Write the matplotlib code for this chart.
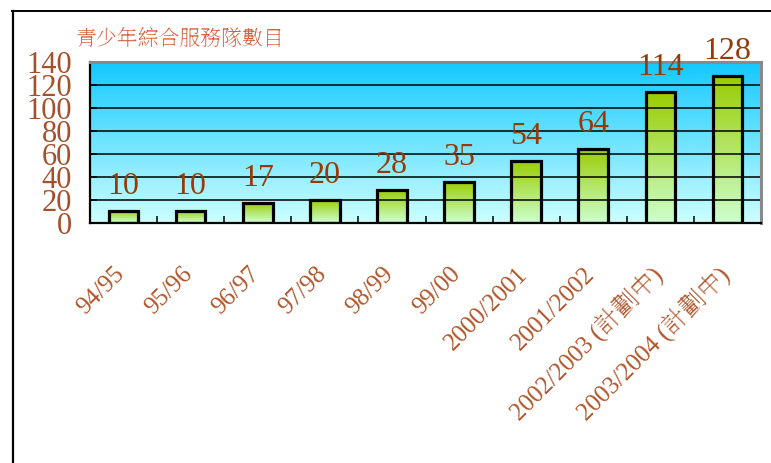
import numpy as np
import matplotlib
matplotlib.use("Agg")
import matplotlib.pyplot as plt
import matplotlib.transforms as mtransforms
from matplotlib.colors import LinearSegmentedColormap

# 青少年綜合服務隊數目
years = ['94/95', '95/96', '96/97', '97/98', '98/99', '99/00',
         '2000/2001', '2001/2002', '2002/2003 (計劃中)', '2003/2004 (計劃中)']
counts = [10, 10, 17, 20, 28, 35, 54, 64, 114, 128]
yticks = [0, 20, 40, 60, 80, 100, 120, 140]
title = '青少年綜合服務隊數目'

latin = ['Liberation Serif', 'Noto Serif TC', 'Noto Sans CJK TC', 'DejaVu Sans']
cjk = ['Noto Serif TC', 'Noto Sans CJK TC', 'DejaVu Sans']

W, H = 771, 463
fig = plt.figure(figsize=(W / 100, H / 100), dpi=100)

# outer frame (left and top edges only visible)
fig.add_artist(plt.Line2D([12.5 / W, 12.5 / W], [0, 1 - 10.5 / H], color='black', lw=1.6))
fig.add_artist(plt.Line2D([12 / W, 1], [1 - 10.5 / H, 1 - 10.5 / H], color='black', lw=1.4))

left, right, top, bottom = 90, 761, 62, 222.5
ax = fig.add_axes([left / W, 1 - bottom / H, (right - left) / W, (bottom - top) / H])

x = np.arange(len(years))

# blue background fading downwards
bg = LinearSegmentedColormap.from_list('bg', ['#ccffff', '#12c8ff'])
grad = np.linspace(0, 1, 256).reshape(-1, 1)
ax.imshow(grad, cmap=bg, origin='lower', aspect='auto',
          extent=(-0.5, len(years) - 0.5, yticks[0], yticks[-1]), zorder=0)

ax.set_yticks(yticks)
ax.grid(axis='y', color='black', lw=1.1, zorder=1)
ax.set_axisbelow(False)

# bars: green gradient inside a black outline
green = LinearSegmentedColormap.from_list('gr', ['#ccffcc', '#99cc00'])
bw = 0.44
bars = ax.bar(x, counts, width=bw, facecolor='none', edgecolor='black', lw=2.3, zorder=3)
for b in bars:
    ax.imshow(grad, cmap=green, origin='lower', aspect='auto',
              extent=(b.get_x(), b.get_x() + b.get_width(), 0, b.get_height()), zorder=2)
ax.set_xlim(-0.5, len(years) - 0.5)
ax.set_ylim(yticks[0], yticks[-1])

# value labels above bars
lab_off = mtransforms.offset_copy(ax.transData, fig=fig, x=0, y=17, units='dots')
for xi, v in zip(x, counts):
    ax.text(xi, v, str(v), transform=lab_off, ha='center', va='baseline',
            fontsize=23, family=latin, color='#963a08', clip_on=False, zorder=5)

# spines
for s in ('left', 'bottom'):
    ax.spines[s].set_color('black')
    ax.spines[s].set_linewidth(1.6)
for s in ('top', 'right'):
    ax.spines[s].set_color('#8a8a8a')
    ax.spines[s].set_linewidth(2.2)
for sp in ax.spines.values():
    sp.set_zorder(4)

# ticks: y inward, x ticks between categories
ax.tick_params(axis='y', direction='in', length=5, width=1.1, color='black', pad=13,
               labelsize=22, labelcolor='#a5502a')
for t in ax.get_yticklabels():
    t.set_family(latin)
ax.set_xticks(x)
ax.set_xticklabels([])
ax.tick_params(axis='x', which='major', length=0)
ax.set_xticks(np.arange(len(years) + 1) - 0.5, minor=True)
ax.tick_params(axis='x', which='minor', direction='in', length=5, width=1.1, color='black')

# rotated category labels
xl_off = mtransforms.offset_copy(ax.get_xaxis_transform(), fig=fig, x=-2, y=-(271 - bottom), units='dots')
for xi, name in zip(x, years):
    ax.text(xi, 0, name, transform=xl_off, rotation=45, rotation_mode='anchor',
            ha='right', va='center', fontsize=18, family=latin, color='#b0552a',
            clip_on=False)

fig.text(76 / W, 1 - 28 / H, title, ha='left', va='top', fontsize=15,
         family=cjk, color='#d65f3c')

fig.savefig('out.png', dpi=100)
